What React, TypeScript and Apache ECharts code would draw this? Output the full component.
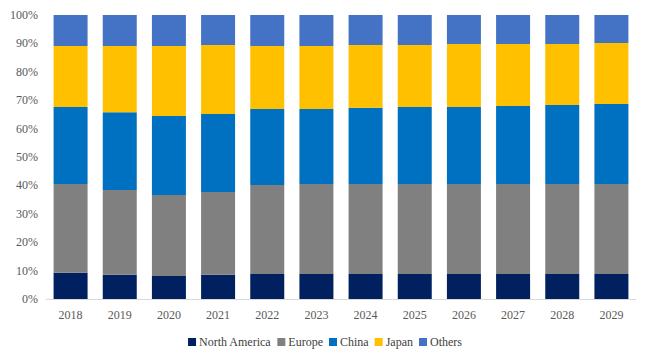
import React, { useEffect, useRef } from "react";
import * as echarts from "echarts";

const years = ["2018", "2019", "2020", "2021", "2022", "2023", "2024", "2025", "2026", "2027", "2028", "2029"];
const northAmerica = [9.2, 8.5, 8.1, 8.5, 8.8, 8.8, 8.8, 8.8, 8.8, 8.8, 8.8, 8.8];
const europe = [31.3, 29.9, 28.5, 29.2, 31.3, 31.7, 31.7, 31.7, 31.7, 31.7, 31.7, 31.7];
const china = [27.1, 27.4, 27.8, 27.4, 26.8, 26.4, 26.8, 27.1, 27.1, 27.5, 27.8, 28.2];
const japan = [21.5, 23.3, 24.7, 24.3, 22.2, 22.2, 22.1, 21.8, 22.2, 21.8, 21.5, 21.4];
const others = [10.9, 10.9, 10.9, 10.6, 10.9, 10.9, 10.6, 10.6, 10.2, 10.2, 10.2, 9.9];

const seriesDefs = [
  { name: "North America", data: northAmerica, color: "#002060" },
  { name: "Europe", data: europe, color: "#808080" },
  { name: "China", data: china, color: "#0070C0" },
  { name: "Japan", data: japan, color: "#FFC000" },
  { name: "Others", data: others, color: "#4472C4" },
];

const FONT = "'Liberation Serif', 'Times New Roman', serif";

export default function App() {
  const ref = useRef<HTMLDivElement>(null);
  useEffect(() => {
    document.body.style.margin = "0";
    const chart = echarts.init(ref.current!, undefined, { renderer: "svg" });
    chart.setOption({
      animation: false,
      textStyle: { fontFamily: FONT },
      grid: { left: 46, right: 14, top: 15, bottom: 62 },
      legend: {
        bottom: 8,
        left: "center",
        itemWidth: 8,
        itemHeight: 8,
        itemGap: 6,
        icon: "rect",
        textStyle: { fontFamily: FONT, fontSize: 12, color: "#404040", padding: [0, 0, 0, -2] },
        data: seriesDefs.map((s) => s.name),
      },
      xAxis: {
        type: "category",
        data: years,
        axisLine: { lineStyle: { color: "#D9D9D9", width: 1 } },
        axisTick: { show: false },
        axisLabel: { fontFamily: FONT, fontSize: 12, color: "#595959", margin: 10 },
      },
      yAxis: {
        type: "value",
        min: 0,
        max: 100,
        interval: 10,
        axisLine: { show: false },
        axisTick: { show: false },
        splitLine: { show: false },
        axisLabel: { fontFamily: FONT, fontSize: 12, color: "#595959", formatter: "{value}%", margin: 8 },
      },
      series: seriesDefs.map((s) => ({
        name: s.name,
        type: "bar",
        stack: "total",
        data: s.data,
        barWidth: 34,
        itemStyle: { color: s.color },
      })),
    });
    return () => chart.dispose();
  }, []);
  return <div ref={ref} style={{ width: 650, height: 361 }} />;
}
